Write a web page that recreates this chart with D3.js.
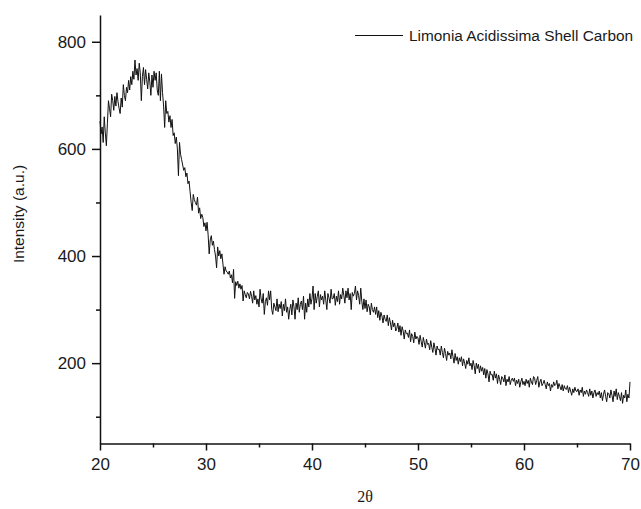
<!DOCTYPE html>
<html>
<head>
<meta charset="utf-8">
<script src="https://cdn.jsdelivr.net/npm/d3@7"></script>
<style>
  body { margin: 0; background: #fff; }
  svg { display: block; font-family: "Liberation Sans", Arial, sans-serif; }
</style>
</head>
<body>
<div id="chart"></div>
<script>
// 2-theta start and step of the scan
const thetaStart = 20;
const thetaStep = 0.1;

// intensity, one row per degree (x.0 ... x.9)
const intensity = [
  652, 628, 641, 612, 660, 630, 606, 648, 690, 675,
  660, 702, 690, 672, 698, 680, 705, 688, 676, 666,
  695, 678, 720, 700, 690, 715, 705, 728, 710, 735,
  720, 745, 730, 766, 738, 750, 728, 760, 742, 690,
  735, 752, 720, 748, 730, 712, 742, 725, 700, 738,
  715, 745, 728, 742, 710, 700, 745, 690, 740, 705,
  680, 640, 690, 666, 670, 650, 662, 640, 655, 625,
  630, 610, 622, 600, 550, 612, 590, 580, 570, 560,
  565, 548, 555, 535, 540, 520, 500, 485, 515, 505,
  500, 495, 510, 480, 490, 470, 478, 472, 455, 462,
  447, 463, 440, 404, 430, 438, 420, 428, 412, 400,
  378, 417, 400, 410, 395, 404, 385, 366, 380, 372,
  370, 366, 372, 359, 365, 350, 375, 321, 352, 345,
  353, 340, 348, 338, 345, 316, 335, 328, 322, 332,
  329, 320, 334, 325, 312, 335, 318, 326, 310, 320,
  305, 338, 320, 312, 330, 291, 315, 322, 308, 335,
  318, 335, 300, 291, 312, 305, 298, 320, 296, 310,
  302, 315, 288, 310, 298, 320, 295, 305, 282, 300,
  310, 290, 318, 305, 282, 312, 300, 322, 295, 310,
  316, 300, 325, 282, 312, 295, 320, 305, 330, 310,
  321, 344, 300, 330, 312, 325, 335, 305, 328, 318,
  325, 310, 335, 318, 300, 330, 322, 312, 338, 320,
  321, 330, 308, 325, 315, 335, 310, 328, 320, 340,
  327, 312, 335, 322, 340, 318, 330, 300, 332, 325,
  330, 344, 318, 335, 326, 310, 340, 315, 300, 320,
  302, 318, 296, 310, 305, 290, 312, 300, 295, 305,
  291, 305, 285, 298, 280, 295, 288, 275, 290, 282,
  278, 290, 270, 285, 275, 262, 280, 268, 275, 260,
  265, 275, 258, 270, 252, 268, 260, 245, 262, 255,
  256, 248, 262, 240, 255, 250, 238, 258, 245, 250,
  247, 235, 252, 240, 230, 248, 238, 228, 245, 235,
  237, 225, 242, 230, 220, 238, 228, 215, 232, 225,
  226, 215, 232, 220, 210, 228, 218, 205, 222, 215,
  219, 208, 225, 212, 200, 218, 205, 212, 198, 210,
  203, 212, 195, 208, 200, 190, 205, 198, 210, 195,
  200, 188, 205, 195, 180, 200, 190, 198, 182, 195,
  185, 192, 178, 190, 172, 188, 180, 165, 185, 178,
  179, 168, 185, 172, 180, 162, 178, 170, 160, 175,
  172, 165, 178, 158, 170, 165, 175, 160, 168, 172,
  166, 172, 158, 168, 162, 170, 155, 165, 172, 160,
  166, 158, 170, 162, 168, 155, 172, 165, 160, 175,
  172, 160, 168, 175, 155, 165, 170, 158, 162, 168,
  160, 152, 165, 158, 162, 148, 160, 155, 165, 158,
  160, 168, 152, 162, 156, 150, 160, 148, 158, 152,
  151, 158, 145, 155, 148, 140, 152, 145, 155, 148,
  147, 152, 140, 150, 145, 155, 138, 148, 142, 150,
  145, 138, 152, 140, 148, 135, 145, 150, 138, 145,
  141, 148, 135, 145, 130, 142, 150, 138, 128, 145,
  143, 135, 150, 140, 128, 148, 138, 152, 132, 145,
  138, 130, 145, 125, 140, 135, 150, 128, 142, 135,
  165
];

const xTicks = [20, 30, 40, 50, 60, 70];
const yTicks = [200, 400, 600, 800];
const seriesName = "Limonia Acidissima Shell Carbon";

const width = 641, height = 509;
const margin = { top: 15, right: 11, bottom: 66, left: 100 };

const data = intensity.map((v, i) => ({ t: thetaStart + i * thetaStep, v: v }));

const svg = d3.select("#chart").append("svg")
  .attr("width", width)
  .attr("height", height);

const x = d3.scaleLinear().domain([20, 70]).range([margin.left, width - margin.right]);
const y = d3.scaleLinear().domain([50, 850]).range([height - margin.bottom + 0.5, margin.top]);

// minor ticks first, then the labelled axes on top
svg.append("g")
  .attr("transform", `translate(0,${y(50)})`)
  .call(d3.axisBottom(x).tickValues([25, 35, 45, 55, 65]).tickSize(4).tickFormat(""))
  .call(g => g.select(".domain").remove())
  .selectAll("line").attr("stroke", "#111").attr("stroke-width", 1.5);

svg.append("g")
  .attr("transform", `translate(${x(20)},0)`)
  .call(d3.axisLeft(y).tickValues([100, 300, 500, 700]).tickSize(4).tickFormat(""))
  .call(g => g.select(".domain").remove())
  .selectAll("line").attr("stroke", "#111").attr("stroke-width", 1.5);

const xAxis = svg.append("g")
  .attr("transform", `translate(0,${y(50)})`)
  .call(d3.axisBottom(x).tickValues(xTicks).tickSize(7).tickSizeOuter(0).tickPadding(7));

const yAxis = svg.append("g")
  .attr("transform", `translate(${x(20)},0)`)
  .call(d3.axisLeft(y).tickValues(yTicks).tickSize(8).tickSizeOuter(0).tickPadding(6));

[xAxis, yAxis].forEach(g => {
  g.select(".domain").attr("stroke", "#111").attr("stroke-width", 1.5);
  g.selectAll(".tick line").attr("stroke", "#111").attr("stroke-width", 1.5);
  g.selectAll(".tick text")
    .attr("fill", "#1a1a1a")
    .style("font-size", "17px")
    .style("font-family", "'Liberation Sans', Arial, sans-serif");
});

// the scan
svg.append("path")
  .datum(data)
  .attr("fill", "none")
  .attr("stroke", "#111")
  .attr("stroke-width", 1)
  .attr("stroke-linejoin", "round")
  .attr("d", d3.line().x(d => x(d.t)).y(d => y(d.v)));

// legend
svg.append("line")
  .attr("x1", 355).attr("x2", 403)
  .attr("y1", 35.5).attr("y2", 35.5)
  .attr("stroke", "#111").attr("stroke-width", 1);

svg.append("text")
  .attr("x", 409)
  .attr("y", 41)
  .attr("fill", "#1a1a1a")
  .style("font-size", "15.4px")
  .text(seriesName);

// axis titles
svg.append("text")
  .attr("transform", "translate(24,214) rotate(-90)")
  .attr("text-anchor", "middle")
  .attr("fill", "#1a1a1a")
  .style("font-size", "15.5px")
  .text("Intensity (a.u.)");

svg.append("text")
  .attr("x", (x(20) + x(70)) / 2)
  .attr("y", 502)
  .attr("text-anchor", "middle")
  .attr("fill", "#1a1a1a")
  .style("font-family", "'Liberation Serif', 'Times New Roman', serif")
  .style("font-size", "16px")
  .text("2θ");
</script>
</body>
</html>
